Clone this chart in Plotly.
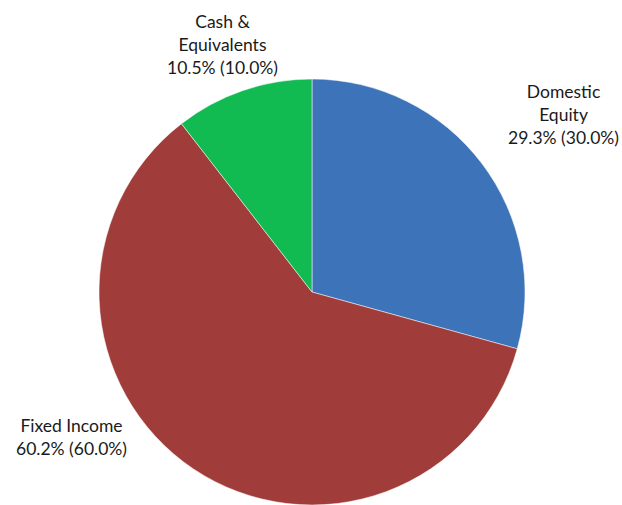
import plotly.graph_objects as go

categories = ["Domestic Equity", "Fixed Income", "Cash & Equivalents"]
label_lines = ["Domestic<br>Equity", "Fixed Income", "Cash &<br>Equivalents"]
actual_pct = [29.3, 60.2, 10.5]
target_pct = [30.0, 60.0, 10.0]
colors = ["#3D73B9", "#A03D3B", "#12BB52"]

fig = go.Figure(go.Pie(
    labels=categories,
    values=actual_pct,
    sort=False,
    direction="clockwise",
    rotation=0,
    marker=dict(colors=colors, line=dict(color="rgba(255,255,255,0.5)", width=1)),
    textinfo="none",
    hoverinfo="label+percent",
    showlegend=False,
))

# label positions (pixels) for each slice
label_pos = [(563, 115), (71, 437), (222, 45)]
W, H = 622, 505
for txt, a, t, (px, py) in zip(label_lines, actual_pct, target_pct, label_pos):
    fig.add_annotation(
        x=px / W, y=1 - py / H, xref="paper", yref="paper",
        text=f"{txt}<br>{a:.1f}% ({t:.1f}%)",
        showarrow=False, xanchor="center", yanchor="middle",
        font=dict(family="Lato", size=17.5, color="#1a1a1a"),
        align="center",
    )

fig.update_layout(
    width=W, height=H,
    margin=dict(l=0, r=0, t=0, b=0),
    paper_bgcolor="white",
    plot_bgcolor="white",
)
fig.data[0].domain = dict(x=[99 / W, 525 / W], y=[0, 1 - 79 / H])
fig.write_html("out.html", config={"displayModeBar": False},
               post_script="document.body.style.margin='0';")
